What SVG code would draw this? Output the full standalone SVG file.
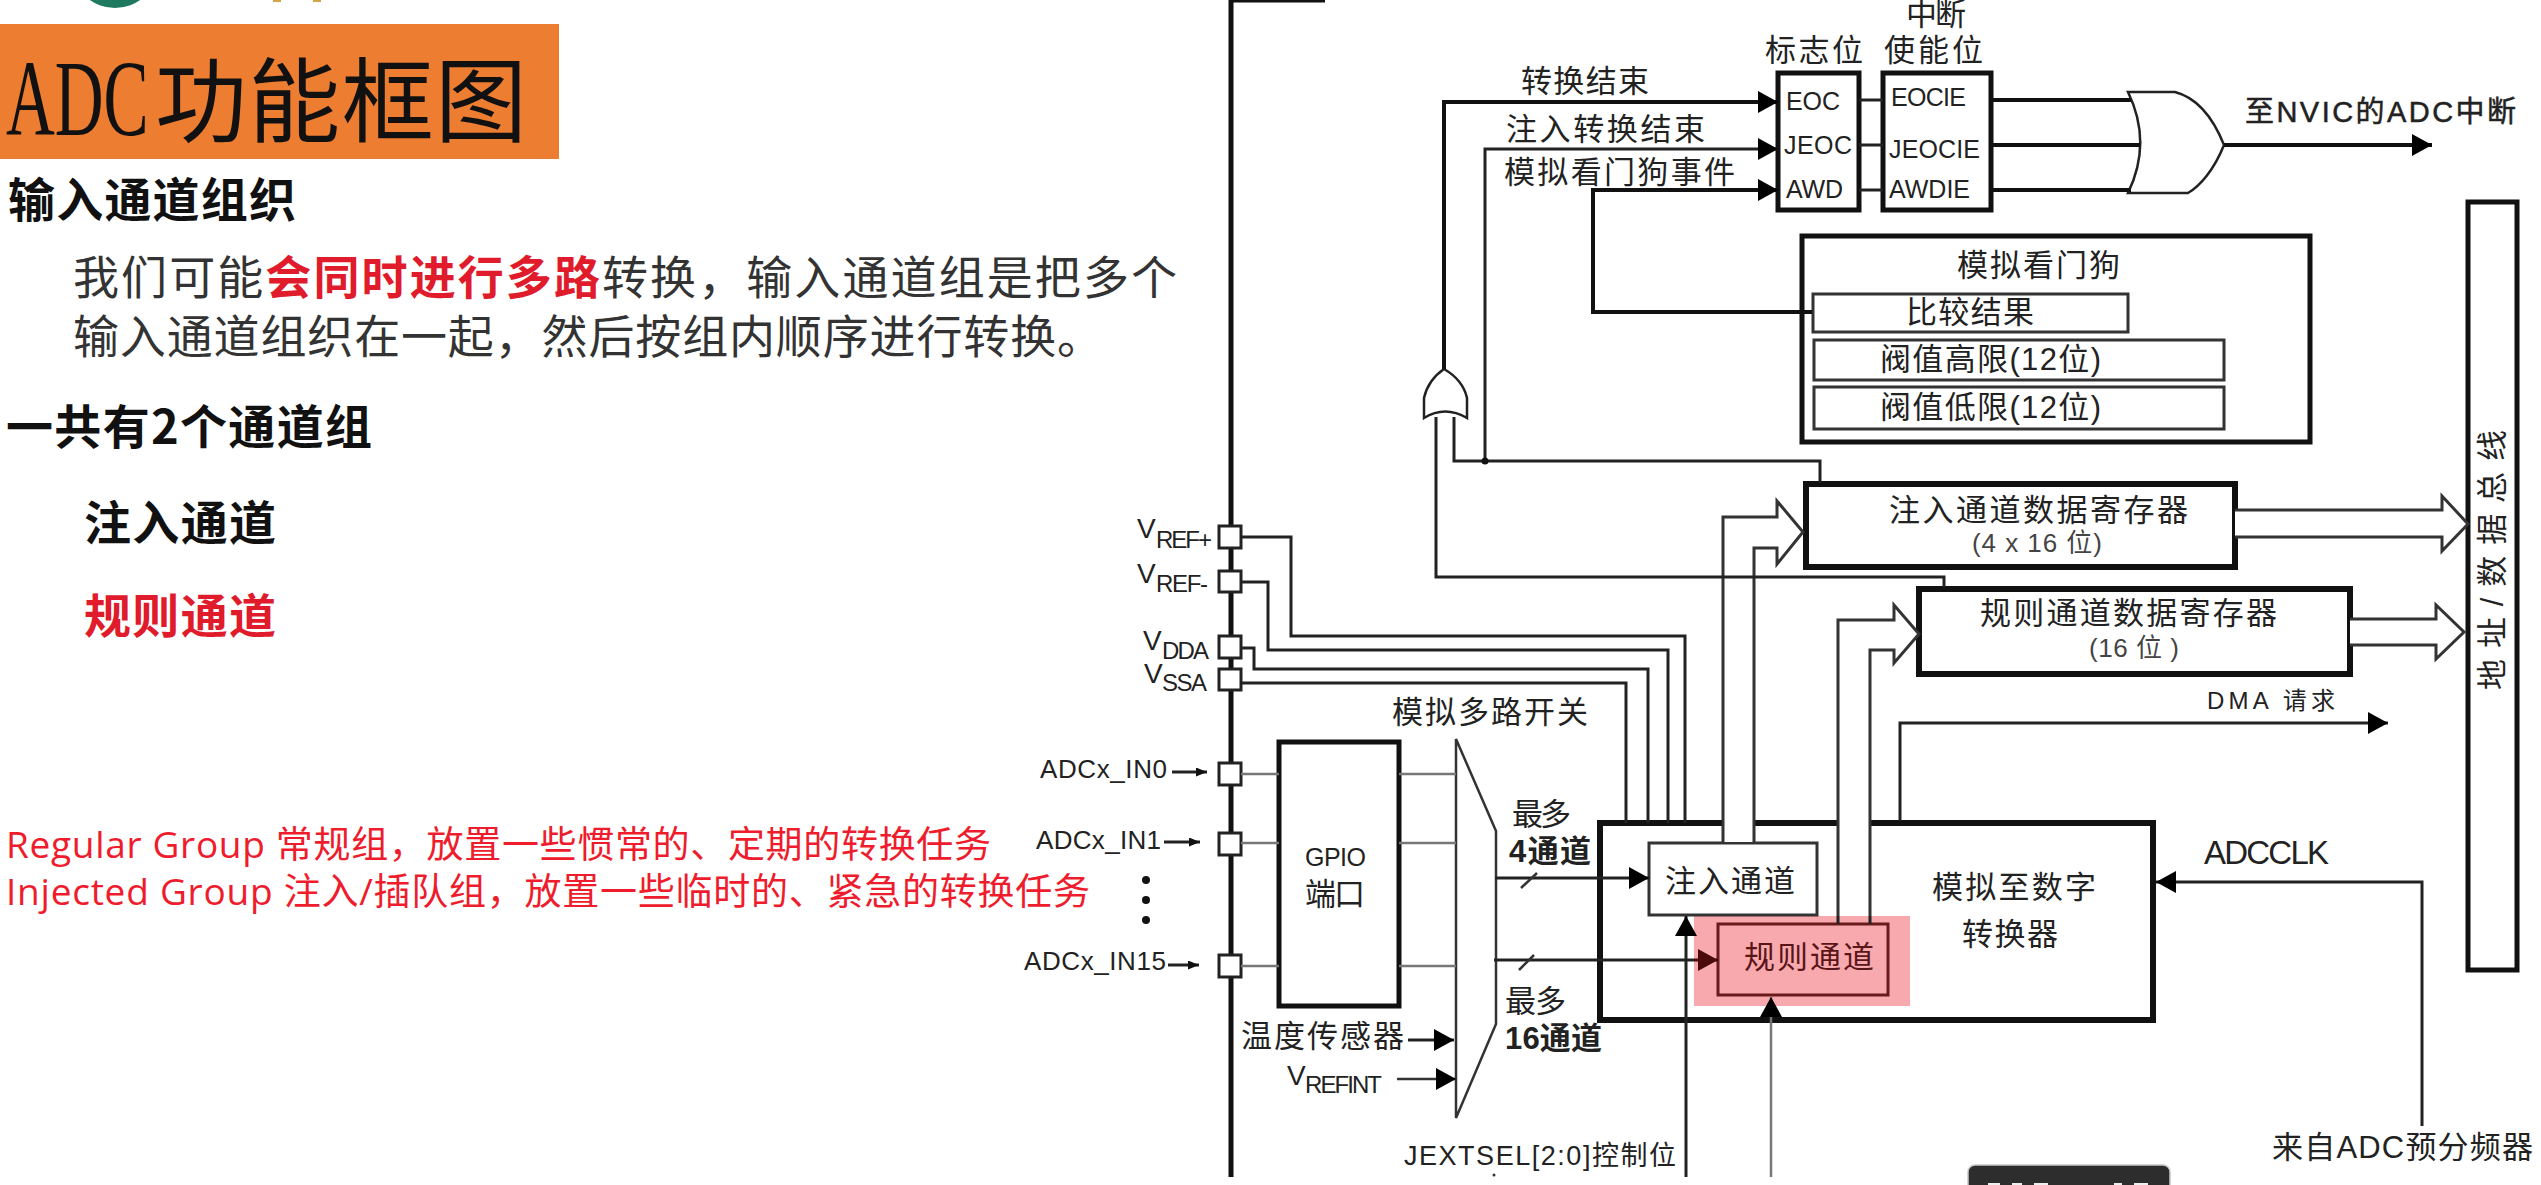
<svg xmlns="http://www.w3.org/2000/svg" width="2541" height="1185" viewBox="0 0 2541 1185">
<style>
text{font-family:"Liberation Sans","Noto Sans CJK SC",sans-serif;fill:#222}
.cn{font-size:31px}
.l{font-size:25px}
.sub{font-size:24px}
.v{font-size:28px}
.pin{font-size:26px}
.body{font-family:"Noto Sans CJK SC",sans-serif;font-size:46px;fill:#333}
.hd{font-family:"Noto Sans CJK SC",sans-serif;font-size:47px;font-weight:700;fill:#111}
.red{fill:#e01b2b}
.note{font-family:"Open Sans","Noto Sans CJK SC",sans-serif;font-size:37px;fill:#ee1c2c}
.box{fill:#fff;stroke:#111;stroke-width:5}
.thin{fill:#fff;stroke:#333;stroke-width:3}
.pinbox{fill:#fff;stroke:#222;stroke-width:3}
.w{fill:none;stroke:#222;stroke-width:3}
.g{fill:none;stroke:#777;stroke-width:2.5}
.k{fill:none;stroke:#111;stroke-width:4}
.h{fill:#fff;stroke:#333;stroke-width:3}
</style>
<defs>
<marker id="a" markerUnits="userSpaceOnUse" markerWidth="20" markerHeight="22" refX="20" refY="11" orient="auto"><path d="M0 0L20 11L0 22Z" fill="#000"/></marker>
<marker id="b" markerUnits="userSpaceOnUse" markerWidth="11" markerHeight="9" refX="11" refY="4.5" orient="auto"><path d="M0 0L11 4.500L0 9Z" fill="#111"/></marker>
<marker id="c" markerUnits="userSpaceOnUse" markerWidth="20" markerHeight="22" refX="20" refY="11" orient="auto"><path d="M0 0L20 11L0 22Z" fill="#4a0a0a"/></marker>
</defs>
<rect width="2541" height="1185" fill="#fff"/>
<g id="logo"><ellipse cx="115" cy="-28" rx="40" ry="36" fill="#1d7a5f"/><rect x="273" y="0" width="8" height="2" fill="#d3a548"/><rect x="313" y="0" width="8" height="2" fill="#d3a548"/></g>
<g id="title"><rect x="0" y="24" width="559" height="135" fill="#ed7d31"/>
<text transform="translate(6 135) scale(.62 1)" x="0" y="0" font-size="109" style="font-family:'Liberation Serif',serif;fill:#111">ADC</text>
<text x="155" y="135" font-size="92" style="font-family:'Noto Sans CJK SC',sans-serif;fill:#111" textLength="372">功能框图</text></g>
<g id="slide-text">
<text class="hd" x="8" y="217" textLength="288">输入通道组织</text>
<text class="body" x="73" y="294" textLength="1104">我们可能<tspan class="red" font-weight="700">会同时进行多路</tspan>转换，输入通道组是把多个</text>
<text class="body" x="73" y="353" textLength="1030">输入通道组织在一起，然后按组内顺序进行转换。</text>
<text class="hd" x="6" y="444" textLength="366">一共有2个通道组</text>
<text class="hd" x="84" y="540" textLength="192">注入通道</text>
<text class="hd red" x="84" y="633" textLength="192">规则通道</text>
<text class="note" x="6" y="858" textLength="985">Regular Group 常规组，放置一些惯常的、定期的转换任务</text>
<text class="note" x="6" y="905" textLength="1084">Injected Group 注入/插队组，放置一些临时的、紧急的转换任务</text>
</g>
<g id="bus-left"><path d="M1231 0V1177M1231 0H1325" fill="none" stroke="#111" stroke-width="5"/></g>
<g id="flags"><rect class="box" x="1778" y="73" width="81" height="137"/>
<text class="l" x="1786" y="110" textLength="54">EOC</text><text class="l" x="1784" y="154" textLength="68">JEOC</text><text class="l" x="1786" y="198" textLength="57">AWD</text>
<text class="cn" x="1765" y="61" textLength="98">标志位</text></g>
<g id="enables"><rect class="box" x="1883" y="73" width="108" height="137"/>
<text class="l" x="1891" y="106" textLength="75">EOCIE</text><text class="l" x="1889" y="158" textLength="91">JEOCIE</text><text class="l" x="1889" y="198" textLength="81">AWDIE</text>
<text class="cn" x="1906" y="25" textLength="60">中断</text><text class="cn" x="1884" y="61" textLength="99">使能位</text></g>
<g id="or-main"><path class="w" d="M2128 92H2175C2198 98 2214 120 2224 145C2214 170 2200 186 2188 193H2128C2144 160 2144 125 2128 92Z" style="stroke-width:2.500;fill:#fff"/></g>
<g id="or-small"><path class="w" d="M1424 418V398Q1428 380 1444 369Q1463 380 1467 398V418Q1445 405 1424 418Z" style="stroke-width:2.500;fill:#fff"/></g>
<g id="watchdog"><rect class="box" x="1802" y="236" width="508" height="206"/>
<text class="cn" x="1957" y="276" textLength="163">模拟看门狗</text>
<rect class="thin" x="1813" y="294" width="315" height="38"/><text class="cn" x="1906" y="323" textLength="128">比较结果</text>
<rect class="thin" x="1814" y="340" width="410" height="40"/><text class="cn" x="1880" y="370" textLength="221">阀值高限(12位)</text>
<rect class="thin" x="1814" y="387" width="410" height="42"/><text class="cn" x="1880" y="418" textLength="221">阀值低限(12位)</text></g>
<g id="injected-register"><rect class="box" x="1806" y="484" width="429" height="83" style="stroke-width:6"/>
<text class="cn" x="1889" y="521" textLength="299">注入通道数据寄存器</text>
<text x="1972" y="552" font-size="26" textLength="130" style="fill:#444">(4 x 16 位)</text></g>
<g id="regular-register"><rect class="box" x="1919" y="589" width="431" height="85" style="stroke-width:6"/>
<text class="cn" x="1980" y="624" textLength="297">规则通道数据寄存器</text>
<text x="2089" y="657" font-size="26" textLength="90" style="fill:#444">(16 位 )</text></g>
<g id="address-bus"><rect class="box" x="2468" y="202" width="49" height="768"/>
<text class="cn" transform="translate(2503 690) rotate(-90)" x="0" y="0" textLength="260">地址/数据总线</text></g>
<g id="gpio"><rect class="box" x="1279" y="742" width="120" height="264"/>
<text x="1305" y="866" font-size="25" textLength="61">GPIO</text><text class="cn" x="1305" y="905" textLength="60">端口</text></g>
<g id="mux"><path d="M1456 739L1496 831V1024L1456 1118Z" fill="#fff" stroke="#333" stroke-width="2.500"/></g>
<g id="adc"><rect class="box" x="1600" y="823" width="553" height="197" style="stroke-width:6"/>
<text class="cn" x="1932" y="898" textLength="164">模拟至数字</text><text class="cn" x="1962" y="945" textLength="96">转换器</text></g>
<g id="highlight"><rect x="1694" y="916" width="216" height="90" fill="#f8a9ae"/></g>
<g id="injected-channel"><rect class="thin" x="1649" y="843" width="168" height="72"/><text class="cn" x="1665" y="892" textLength="130">注入通道</text></g>
<g id="regular-channel"><rect x="1718" y="924" width="170" height="71" fill="none" stroke="#6a1a1a" stroke-width="3"/><text class="cn" x="1744" y="968" textLength="130" style="fill:#5a1518">规则通道</text></g>
<g id="pins">
<rect class="pinbox" x="1219" y="526" width="22" height="22"/><rect class="pinbox" x="1219" y="571" width="22" height="21"/>
<rect class="pinbox" x="1219" y="636" width="22" height="22"/><rect class="pinbox" x="1219" y="669" width="22" height="21"/>
<rect class="pinbox" x="1219" y="763" width="22" height="22"/><rect class="pinbox" x="1219" y="833" width="22" height="22"/><rect class="pinbox" x="1219" y="955" width="22" height="22"/>
<text class="v" x="1137" y="538">V</text><text class="sub" x="1156" y="548" textLength="56">REF+</text>
<text class="v" x="1137" y="583">V</text><text class="sub" x="1156" y="592" textLength="52">REF-</text>
<text class="v" x="1143" y="650">V</text><text class="sub" x="1162" y="659" textLength="47">DDA</text>
<text class="v" x="1144" y="683">V</text><text class="sub" x="1162" y="691" textLength="45">SSA</text>
<text class="pin" x="1040" y="778" textLength="127">ADCx_IN0</text><text class="pin" x="1036" y="849" textLength="125">ADCx_IN1</text><text class="pin" x="1024" y="970" textLength="142">ADCx_IN15</text>
<circle cx="1146" cy="880" r="4" fill="#111"/><circle cx="1146" cy="900" r="4" fill="#111"/><circle cx="1146" cy="920" r="4" fill="#111"/>
</g>
<g id="labels">
<text class="cn" x="1521" y="92" textLength="128">转换结束</text>
<text class="cn" x="1506" y="140" textLength="199">注入转换结束</text>
<text class="cn" x="1504" y="183" textLength="231">模拟看门狗事件</text>
<text x="2245" y="122" font-size="29" stroke="#222" stroke-width=".5" textLength="271">至NVIC的ADC中断</text>
<text x="2207" y="709" font-size="24" textLength="128">DMA 请求</text>
<text x="2204" y="864" font-size="33" textLength="125">ADCCLK</text>
<text x="2272" y="1158" font-size="31" textLength="261">来自ADC预分频器</text>
<text class="cn" x="1392" y="723" textLength="196">模拟多路开关</text>
<text class="cn" x="1512" y="825" textLength="59">最多</text>
<text class="cn" x="1509" y="862" textLength="82" font-weight="700">4通道</text>
<text class="cn" x="1505" y="1012" textLength="61">最多</text>
<text class="cn" x="1505" y="1049" textLength="97" font-weight="700">16通道</text>
<text class="cn" x="1241" y="1047" textLength="163">温度传感器</text>
<text class="v" x="1287" y="1085">V</text><text class="sub" x="1305" y="1093" textLength="77">REFINT</text>
<text x="1404" y="1165" font-size="27" textLength="272">JEXTSEL[2:0]控制位</text>
</g>
<g id="connectors">
<path class="h" d="M1723 842V517H1777V501L1803 532L1777 564V548H1754V842"/>
<path class="h" d="M1838 916V620H1894V605L1919 634L1894 663V650H1870V916"/>
<path class="w" d="M1838 916V924M1870 916V924"/>
<path class="h" d="M2235 510H2442V496L2468 524L2442 551V537H2235"/>
<path class="h" d="M2350 619H2436V605L2464 632L2436 659V645H2350"/>
<path class="k" d="M1444 369V102H1778" marker-end="url(#a)"/>
<path class="w" d="M1485 461V149H1778" marker-end="url(#a)"/>
<path class="k" d="M1812 312H1593V190H1778" marker-end="url(#a)"/>
<path class="w" d="M1859 100H1883M1859 145H1883M1859 190H1883"/>
<path class="k" d="M1991 100H2131M1991 145H2140M1991 190H2131"/>
<path class="k" d="M2224 145H2432" marker-end="url(#a)"/>
<path class="w" d="M1454 417V461H1820V483"/>
<path class="w" d="M1436 417V577H1944V587"/>
<circle cx="1485" cy="461" r="3.500" fill="#111"/>
<path class="w" d="M1900 821V723H2388" marker-end="url(#a)"/>
<path class="w" d="M2422 1126V882H2156" marker-end="url(#a)"/>
<path class="w" d="M1241 537H1291V636H1685V823"/>
<path class="w" d="M1241 582H1268V650H1668V823"/>
<path class="w" d="M1241 648H1254V669H1648V823"/>
<path class="w" d="M1241 683H1626V823"/>
<path class="g" d="M1241 774H1279M1399 774H1456M1241 843H1279M1399 843H1456M1241 966H1279M1399 966H1456"/>
<path class="w" d="M1495 878H1649" marker-end="url(#a)"/>
<path class="w" d="M1494 960H1694"/>
<path class="w" d="M1694 960H1718" style="stroke:#4a0a0a" marker-end="url(#c)"/>
<path class="g" d="M1521 888L1537 873M1519 970L1534 955" style="stroke:#333"/>
<path class="w" d="M1686 1177V916" marker-end="url(#a)"/>
<path class="g" d="M1771 1177V997" marker-end="url(#a)"/>
<path class="w" d="M1408 1040H1454" marker-end="url(#a)"/>
<path class="g" d="M1397 1079H1456" style="stroke:#333" marker-end="url(#a)"/>
<path class="w" d="M1172 772H1207" marker-end="url(#b)"/>
<path class="w" d="M1164 842H1200" marker-end="url(#b)"/>
<path class="w" d="M1168 965H1199" marker-end="url(#b)"/>
<circle cx="1494" cy="1175" r="1.500" fill="#333"/>
</g>
<g id="tooltip"><rect x="1968" y="1165" width="202" height="30" rx="7" fill="#2d2d2d" stroke="#c8c8c8" stroke-width="1.500"/>
<path d="M1988 1184h12M2012 1184h10M2034 1184h14M2114 1184h8M2134 1184h14" stroke="#eee" stroke-width="2" fill="none"/></g>
</svg>
